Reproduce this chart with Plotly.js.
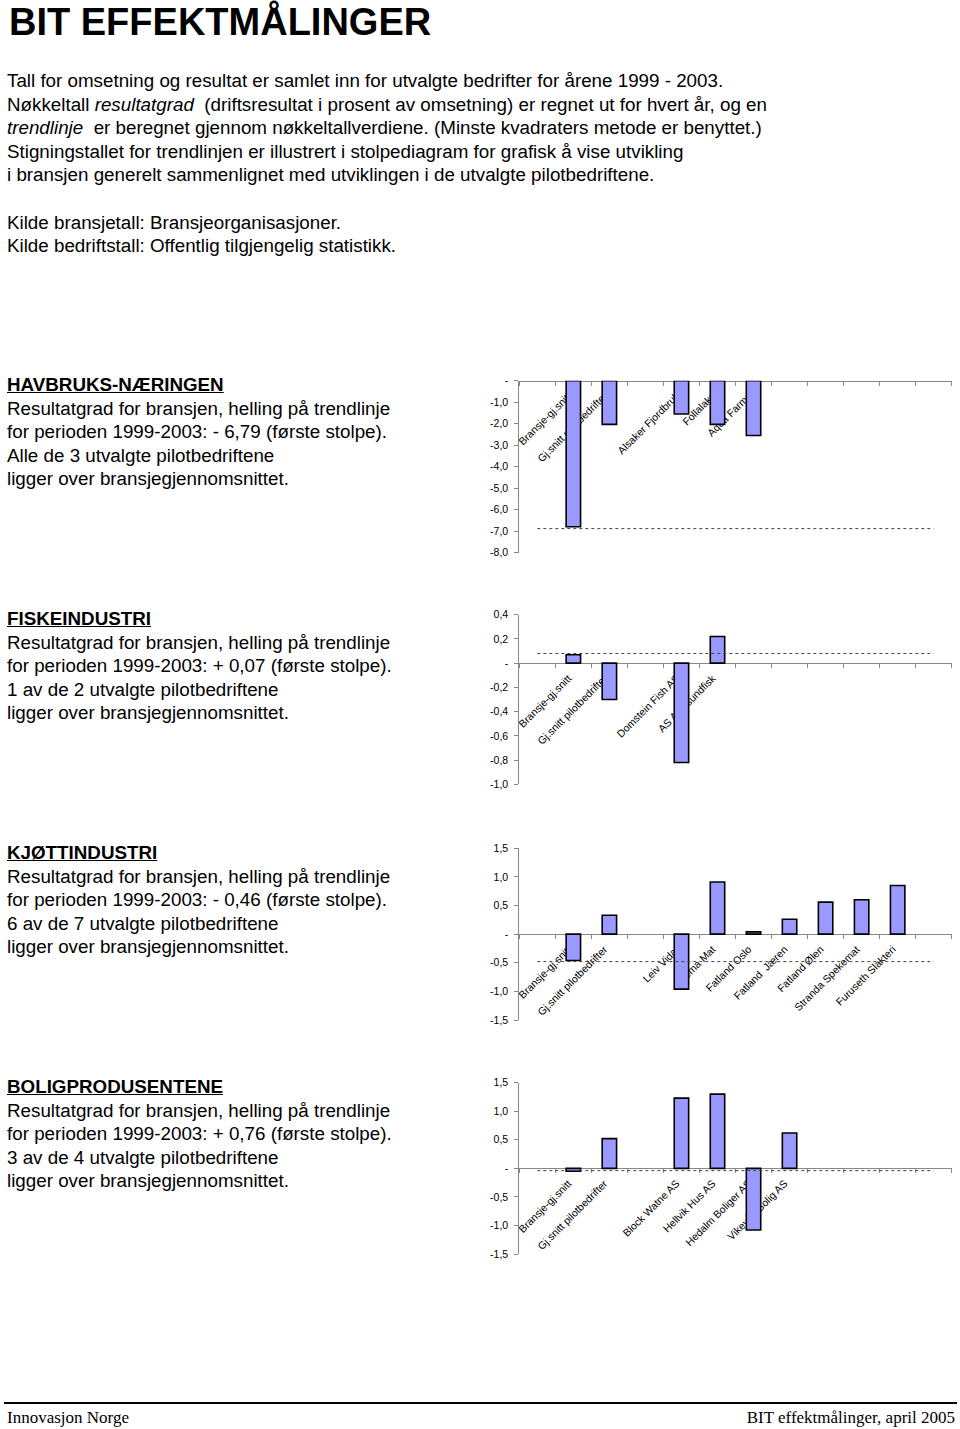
<!DOCTYPE html>
<html>
<head>
<meta charset="utf-8">
<script src="https://cdn.plot.ly/plotly-3.0.1.min.js"></script>
<style>
  html, body { margin: 0; padding: 0; background: #fff; }
  body { width: 960px; height: 1429px; position: relative; overflow: hidden; font-family: "Liberation Sans", Arial, sans-serif; color: #000; }
  #plot { position: absolute; left: 0; top: 0; width: 960px; height: 1429px; }
  .txt { position: absolute; white-space: nowrap; z-index: 2; }
  .title { left: 9px; top: 2.8px; font-size: 38px; line-height: 38px; font-weight: bold; }
  .para { left: 7px; font-size: 18.8px; line-height: 23.5px; }
  .head { font-weight: bold; text-decoration: underline; }
  .foot { position: absolute; top: 1408px; font-family: "Liberation Serif", "Times New Roman", serif; font-size: 17px; line-height: 20px; z-index: 2; }
  .rule { position: absolute; left: 4px; width: 953px; top: 1402px; height: 2px; background: #000; z-index: 2; }
</style>
</head>
<body>
<div class="txt title">BIT EFFEKTMÅLINGER</div>
<div class="txt para" style="top:69.4px">Tall for omsetning og resultat er samlet inn for utvalgte bedrifter for årene 1999 - 2003.<br>Nøkkeltall <i>resultatgrad</i>&nbsp; (driftsresultat i prosent av omsetning) er regnet ut for hvert år, og en<br><i>trendlinje</i>&nbsp; er beregnet gjennom nøkkeltallverdiene. (Minste kvadraters metode er benyttet.)<br>Stigningstallet for trendlinjen er illustrert i stolpediagram for grafisk å vise utvikling<br>i bransjen generelt sammenlignet med utviklingen i de utvalgte pilotbedriftene.</div>
<div class="txt para" style="top:210.6px">Kilde bransjetall: Bransjeorganisasjoner.<br>Kilde bedriftstall: Offentlig tilgjengelig statistikk.</div>
<div id="blocks"></div>
<div class="rule"></div>
<div class="foot" style="left:7px">Innovasjon Norge</div>
<div class="foot" style="right:5px">BIT effektmålinger, april 2005</div>
<div id="plot"></div>
<script>
// ---------- DATA ----------
const havbrukCategories = ["", "Bransje-gj.snitt", "Gj.snitt pilotbedrifter", "", "Alsaker Fjordbruk", "Follalaks", "Aqua Farms", "", "", "", "", ""];
const havbrukValues     = [null, -6.79, -2.03, null, -1.55, -2.03, -2.55, null, null, null, null, null];
const havbrukTrend      = -6.88;
const havbrukTickVals   = [0, -1, -2, -3, -4, -5, -6, -7, -8];
const havbrukTickText   = ["-", "-1,0", "-2,0", "-3,0", "-4,0", "-5,0", "-6,0", "-7,0", "-8,0"];

const fiskCategories = ["", "Bransje-gj.snitt", "Gj.snitt pilotbedrifter", "", "Domstein Fish AS", "AS Aalesundfisk", "", "", "", "", "", ""];
const fiskValues     = [null, 0.07, -0.30, null, -0.82, 0.22, null, null, null, null, null, null];
const fiskTrend      = 0.08;
const fiskTickVals   = [0.4, 0.2, 0, -0.2, -0.4, -0.6, -0.8, -1.0];
const fiskTickText   = ["0,4", "0,2", "-", "-0,2", "-0,4", "-0,6", "-0,8", "-1,0"];

const kjottCategories = ["", "Bransje-gj.snitt", "Gj.snitt pilotbedrifter", "", "Leiv Vidar", "Tema Mat", "Fatland Oslo", "Fatland  Jæren", "Fatland Ølen", "Stranda Spekemat", "Furuseth Slakteri", ""];
const kjottValues     = [null, -0.46, 0.33, null, -0.96, 0.91, 0.04, 0.26, 0.56, 0.60, 0.85, null];
const kjottTrend      = -0.48;
const kjottTickVals   = [1.5, 1.0, 0.5, 0, -0.5, -1.0, -1.5];
const kjottTickText   = ["1,5", "1,0", "0,5", "-", "-0,5", "-1,0", "-1,5"];

const boligCategories = ["", "Bransje-gj.snitt", "Gj.snitt pilotbedrifter", "", "Block Watne AS", "Hellvik Hus AS", "Hedalm Boliger AS", "Vikevåg Bolig AS", "", "", "", ""];
const boligValues     = [null, -0.05, 0.52, null, 1.23, 1.30, -1.08, 0.62, null, null, null, null];
const boligTrend      = -0.04;
const boligTickVals   = [1.5, 1.0, 0.5, 0, -0.5, -1.0, -1.5];
const boligTickText   = ["1,5", "1,0", "0,5", "-", "-0,5", "-1,0", "-1,5"];

const sectionHeadings = ["HAVBRUKS-NÆRINGEN", "FISKEINDUSTRI", "KJØTTINDUSTRI", "BOLIGPRODUSENTENE"];
const sectionSlopes   = ["- 6,79", "+ 0,07", "- 0,46", "+ 0,76"];
const sectionCounts   = ["Alle de 3 utvalgte pilotbedriftene", "1 av de 2 utvalgte pilotbedriftene", "6 av de 7 utvalgte pilotbedriftene", "3 av de 4 utvalgte pilotbedriftene"];

// ---------- TEXT BLOCKS ----------
const blocks = document.getElementById('blocks');
sectionHeadings.forEach((h, i) => {
  const d = document.createElement('div');
  d.className = 'txt para';
  d.style.top = (373.4 + 234 * i) + 'px';
  d.innerHTML = '<span class="head">' + h + '</span><br>Resultatgrad for bransjen, helling på trendlinje<br>for perioden 1999-2003: ' +
    sectionSlopes[i] + ' (første stolpe).<br>' + sectionCounts[i] + '<br>ligger over bransjegjennomsnittet.';
  blocks.appendChild(d);
});

// ---------- CHARTS ----------
const H = 1429, W = 960;
const xDom = [519.3 / W, 951.7 / W];
const charts = [
  { cats: havbrukCategories, vals: havbrukValues, trend: havbrukTrend, tv: havbrukTickVals, tt: havbrukTickText, range: [-8, 0],     top: 380.7,  bot: 552.7 },
  { cats: fiskCategories,    vals: fiskValues,    trend: fiskTrend,    tv: fiskTickVals,    tt: fiskTickText,    range: [-1.0, 0.4], top: 614.7,  bot: 784.3 },
  { cats: kjottCategories,   vals: kjottValues,   trend: kjottTrend,   tv: kjottTickVals,   tt: kjottTickText,   range: [-1.5, 1.5], top: 848.3,  bot: 1020.0 },
  { cats: boligCategories,   vals: boligValues,   trend: boligTrend,   tv: boligTickVals,   tt: boligTickText,   range: [-1.5, 1.5], top: 1082.7, bot: 1254.0 }
];

const data = [];
const layout = {
  width: W, height: H,
  margin: { l: 0, r: 0, t: 0, b: 0 },
  paper_bgcolor: 'rgba(0,0,0,0)',
  plot_bgcolor: 'rgba(0,0,0,0)',
  showlegend: false,
  font: { family: 'Liberation Sans, Arial, sans-serif', size: 10.5, color: '#000' }
};

charts.forEach((c, i) => {
  const n = i + 1;
  const xa = n === 1 ? 'x' : 'x' + n;
  const ya = n === 1 ? 'y' : 'y' + n;
  // unique names for empty category slots
  const cats = c.cats.map((s, k) => s === '' ? ' '.repeat(k + 1) : s);
  // trend line (behind bars)
  data.push({
    type: 'scatter', mode: 'lines', xaxis: xa, yaxis: ya,
    x: [cats[0], cats[cats.length - 1]], y: [c.trend, c.trend],
    line: { color: '#444', width: 1, dash: 'dot' }, hoverinfo: 'skip'
  });
  data.push({
    type: 'bar', xaxis: xa, yaxis: ya, x: cats, y: c.vals, width: 0.4,
    marker: { color: '#9999ff', line: { color: '#000', width: 1.6 } }
  });
  const yDom = [1 - c.bot / H, 1 - c.top / H];
  const zeroPos = yDom[0] + (0 - c.range[0]) / (c.range[1] - c.range[0]) * (yDom[1] - yDom[0]);
  layout['xaxis' + (n === 1 ? '' : n)] = {
    domain: xDom, anchor: 'free', position: zeroPos,
    type: 'category', categoryorder: 'array', categoryarray: cats,
    range: [-0.5, cats.length - 0.5],
    showline: true, linecolor: '#888', linewidth: 1,
    ticks: 'outside', tickson: 'boundaries', ticklen: 4, tickcolor: '#888', tickwidth: 1,
    tickangle: -45, tickfont: { size: 10.5, color: '#000' },
    ticklabelstandoff: 4, ticklabelshift: -5,
    showgrid: false, zeroline: false, layer: 'below traces', fixedrange: true
  };
  layout['yaxis' + (n === 1 ? '' : n)] = {
    domain: yDom, anchor: xa, range: c.range,
    tickmode: 'array', tickvals: c.tv, ticktext: c.tt,
    showline: true, linecolor: '#888', linewidth: 1,
    ticks: 'outside', ticklen: 4, tickcolor: '#888',
    tickfont: { size: 10.5, color: '#000' }, ticklabelstandoff: 4,
    showgrid: false, zeroline: false, fixedrange: true
  };
});

Plotly.newPlot('plot', data, layout, { staticPlot: true });
</script>
</body>
</html>
